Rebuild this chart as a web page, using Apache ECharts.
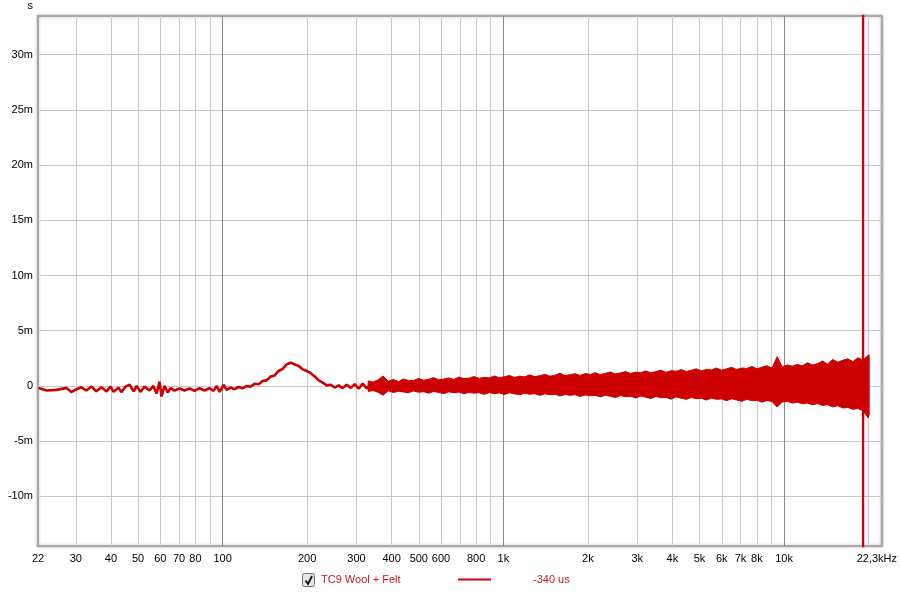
<!DOCTYPE html>
<html><head><meta charset="utf-8">
<script src="https://cdn.jsdelivr.net/npm/echarts@6/dist/echarts.min.js"></script>
<style>html,body{margin:0;padding:0;background:#fff}#c{width:900px;height:595px}</style>
</head><body><div id="c"></div><script>
// Low-frequency trace (Hz, ms)
const lowFreq = [22.1,23.6,25.6,27.8,28.9,30.2,31.4,32.7,34.1,35.5,37.0,38.6,39.9,40.9,42.6,43.6,45.1,46.6,48.2,49.4,51.0,52.7,54.9,56.7,58.2,59.6,60.6,62.1,63.7,65.3,67.4,70.3,73.2,76.3,79.5,82.8,86.3,89.9,92.9,95.2,97.6,100.8,
  103.3,106.8,110.4,114.0,117.8,121.8,125.8,130.0,134.4,138.9,143.5,148.3,153.2,158.3,163.6,169.1,174.7,180.6,186.6,192.8,199.3,205.9,212.8,219.9,227.3,234.9,242.7,250.8,259.1,267.8,276.8,286.0,295.5,305.4,315.6,326.1,337.0];
const lowVal = [-0.20,-0.42,-0.36,-0.18,-0.56,-0.30,-0.12,-0.42,-0.06,-0.48,-0.12,-0.50,-0.06,-0.54,-0.15,-0.57,-0.06,0.12,-0.50,0.0,-0.54,-0.06,-0.42,0.0,-0.70,0.39,-0.96,0.0,-0.60,-0.20,-0.42,-0.24,-0.42,-0.24,-0.45,-0.21,-0.42,-0.21,-0.45,0.0,-0.54,0.10,
  -0.35,-0.15,-0.30,-0.10,-0.22,0.0,-0.08,0.20,0.15,0.45,0.50,0.85,0.95,1.35,1.55,1.95,2.10,1.95,1.80,1.50,1.35,1.15,0.85,0.50,0.30,0.05,0.10,-0.15,0.05,-0.20,0.10,-0.18,0.15,-0.25,0.20,-0.22,0.15];
// Noisy band envelope above ~330 Hz (Hz, upper ms, lower ms)
const bandFreq = [330,344,358,373,389,406,423,441,459,479,499,520,542,565,589,614,640,667,695,724,755,787,820,855,891,929,968,1009,1052,1096,1143,1191,1241,1294,1349,1406,1465,1527,1592,1659,1729,1802,1878,1958,2041,2127,2217,2311,2408,2510,2616,2727,2842,2962,3088,3218,3354,3496,3644,3798,3959,4126,4301,4483,4672,4870,5076,5290,5514,5747,5990,6244,6508,6783,7070,7369,7681,8006,8344,8697,9065,9448,9848,10264,10698,11151,11622,12114,12626,13160,13717,14297,14902,15532,16189,16874,17588,18331,19107,19915,20100];
const bandHi = [0.45,0.35,0.55,0.90,0.42,0.58,0.40,0.62,0.50,0.48,0.68,0.52,0.60,0.75,0.55,0.62,0.72,0.58,0.80,0.66,0.70,0.85,0.68,0.78,0.72,0.90,0.74,0.82,0.95,0.76,0.88,0.82,1.00,0.84,0.92,1.05,0.88,0.96,1.15,0.92,1.02,1.10,0.95,1.12,1.04,1.20,1.02,1.14,1.26,1.08,1.18,1.30,1.12,1.25,1.20,1.36,1.18,1.30,1.42,1.24,1.38,1.32,1.48,1.30,1.42,1.55,1.36,1.50,1.44,1.62,1.42,1.55,1.68,1.48,1.62,1.58,1.76,1.55,1.70,1.82,1.62,2.65,1.72,1.90,1.78,1.95,1.82,2.10,1.90,2.02,2.25,1.98,2.40,2.15,2.32,2.45,2.20,2.55,2.35,2.75,2.80];
const bandLo = [-0.50,-0.42,-0.58,-0.85,-0.45,-0.60,-0.48,-0.55,-0.62,-0.46,-0.58,-0.52,-0.66,-0.50,-0.60,-0.70,-0.54,-0.62,-0.56,-0.72,-0.58,-0.66,-0.62,-0.76,-0.60,-0.70,-0.64,-0.78,-0.62,-0.72,-0.80,-0.66,-0.76,-0.70,-0.86,-0.72,-0.80,-0.76,-0.92,-0.78,-0.85,-0.80,-0.96,-0.82,-0.90,-0.86,-1.00,-0.84,-0.95,-1.05,-0.88,-0.98,-0.94,-1.10,-0.92,-1.02,-1.15,-0.96,-1.08,-1.04,-1.20,-1.00,-1.12,-1.22,-1.06,-1.16,-1.12,-1.28,-1.10,-1.22,-1.18,-1.34,-1.16,-1.28,-1.40,-1.22,-1.34,-1.30,-1.48,-1.32,-1.42,-1.92,-1.46,-1.40,-1.56,-1.48,-1.62,-1.55,-1.72,-1.60,-1.78,-1.70,-1.90,-1.80,-2.00,-1.95,-2.12,-2.05,-2.25,-2.90,-2.60];
// Spike near 19 kHz running off both ends of the plot
const spikeFreq = 19120;
const spikeVals = [-40, 60];
// Axes
const xMinorGrid = [30,40,50,60,70,80,90,200,300,400,500,600,700,800,900,2000,3000,4000,5000,6000,7000,8000,9000,20000];
const xMajorGrid = [100,1000,10000];
const xTickLabels = [22,30,40,50,60,70,80,100,200,300,400,500,600,800,1000,2000,3000,4000,5000,6000,7000,8000,10000,22300];
const yTickValues = [-10,-5,0,5,10,15,20,25,30];
const seriesName = 'TC9 Wool + Felt';
const delayText = '-340 us';
const RED = '#cc0000';
const FONT = 'Liberation Sans, Arial, sans-serif';

const chart = echarts.init(document.getElementById('c'), null, {renderer:'canvas'});
const xBase = {type:'log', logBase:10, min:22, max:22300, axisLine:{show:false}, axisTick:{show:false}};
chart.setOption({
  animation:false,
  backgroundColor:'#ffffff',
  textStyle:{fontFamily:FONT},
  grid:{left:38, right:18, top:15, bottom:49, show:true, backgroundColor:'#ffffff', borderColor:'#a8a8a8', borderWidth:2, shadowColor:'rgba(0,0,0,0.25)', shadowBlur:3},
  xAxis:[
    Object.assign({}, xBase, {
      axisTick:{show:false, customValues:xMinorGrid},
      splitLine:{show:true, lineStyle:{color:'#c8c8c8', width:1}},
      axisLabel:{customValues:xTickLabels, color:'#000', fontSize:11, fontFamily:FONT, margin:7,
        formatter:function(v){ if (v>=22000) return '{e|22,3kHz}'; return v>=1000 ? (v/1000)+'k' : String(v); },
        rich:{e:{fontSize:11, fontFamily:FONT, color:'#000', padding:[0,10,0,0]}}}
    }),
    Object.assign({}, xBase, {
      axisTick:{show:false, customValues:xMajorGrid},
      splitLine:{show:true, lineStyle:{color:'#888888', width:1}},
      axisLabel:{show:false}
    })
  ],
  yAxis:{type:'value', min:-14.5, max:33.5, name:'s', nameLocation:'end', nameGap:5,
    nameTextStyle:{align:'right', padding:[0,5,0,0], color:'#000', fontSize:11, fontFamily:FONT},
    axisLine:{show:false}, axisTick:{show:false, customValues:yTickValues},
    axisLabel:{customValues:yTickValues, color:'#000', fontSize:11, fontFamily:FONT, margin:5,
      formatter:function(v){ return v===0 ? '0' : v+'m'; }},
    splitLine:{show:true, lineStyle:{color:'#c8c8c8', width:1}}},
  legend:[
    {data:[seriesName], left:316, top:574, padding:0, itemWidth:0, itemHeight:0, icon:'none',
      textStyle:{color:'#c41a1a', fontSize:11, fontFamily:FONT}},
    {data:[seriesName], left:458, top:574, padding:0, itemWidth:33, itemHeight:2, icon:'rect',
      formatter:function(){ return delayText; },
      textStyle:{color:'#c41a1a', fontSize:11, fontFamily:FONT, padding:[0,0,0,37]}}
  ],
  graphic:[{type:'group', left:302, top:573, children:[
    {type:'rect', shape:{x:0,y:0,width:12,height:13,r:2}, style:{fill:'#e6e6e6', stroke:'#707070', lineWidth:1}},
    {type:'polyline', shape:{points:[[3,7],[5.5,10.5],[9.5,2.5]]}, style:{stroke:'#111', lineWidth:1.8, fill:null}}
  ]}],
  series:[
    {name:seriesName, type:'line', xAxisIndex:0, showSymbol:false, clip:true, color:RED,
      lineStyle:{color:RED, width:2.6}, data:lowFreq.map(function(f,i){return [f, lowVal[i]];})},
    {name:seriesName, type:'custom', xAxisIndex:0, color:RED, clip:true,
      data:bandFreq.map(function(f,i){return [f, bandHi[i], bandLo[i]];}),
      encode:{x:0, y:[1,2]},
      renderItem:function(params, api){
        if (params.dataIndex !== 0) return null;
        const pts = [];
        for (let i=0;i<bandFreq.length;i++) pts.push(api.coord([bandFreq[i], bandHi[i]]));
        for (let i=bandFreq.length-1;i>=0;i--) pts.push(api.coord([bandFreq[i], bandLo[i]]));
        return {type:'polygon', shape:{points:pts}, style:{fill:RED, stroke:RED, lineWidth:1}};
      }},
    {name:seriesName, type:'line', xAxisIndex:0, showSymbol:false, clip:true, color:RED,
      lineStyle:{color:RED, width:2.3}, data:spikeVals.map(function(v){return [spikeFreq, v];})}
  ]
});
</script></body></html>
